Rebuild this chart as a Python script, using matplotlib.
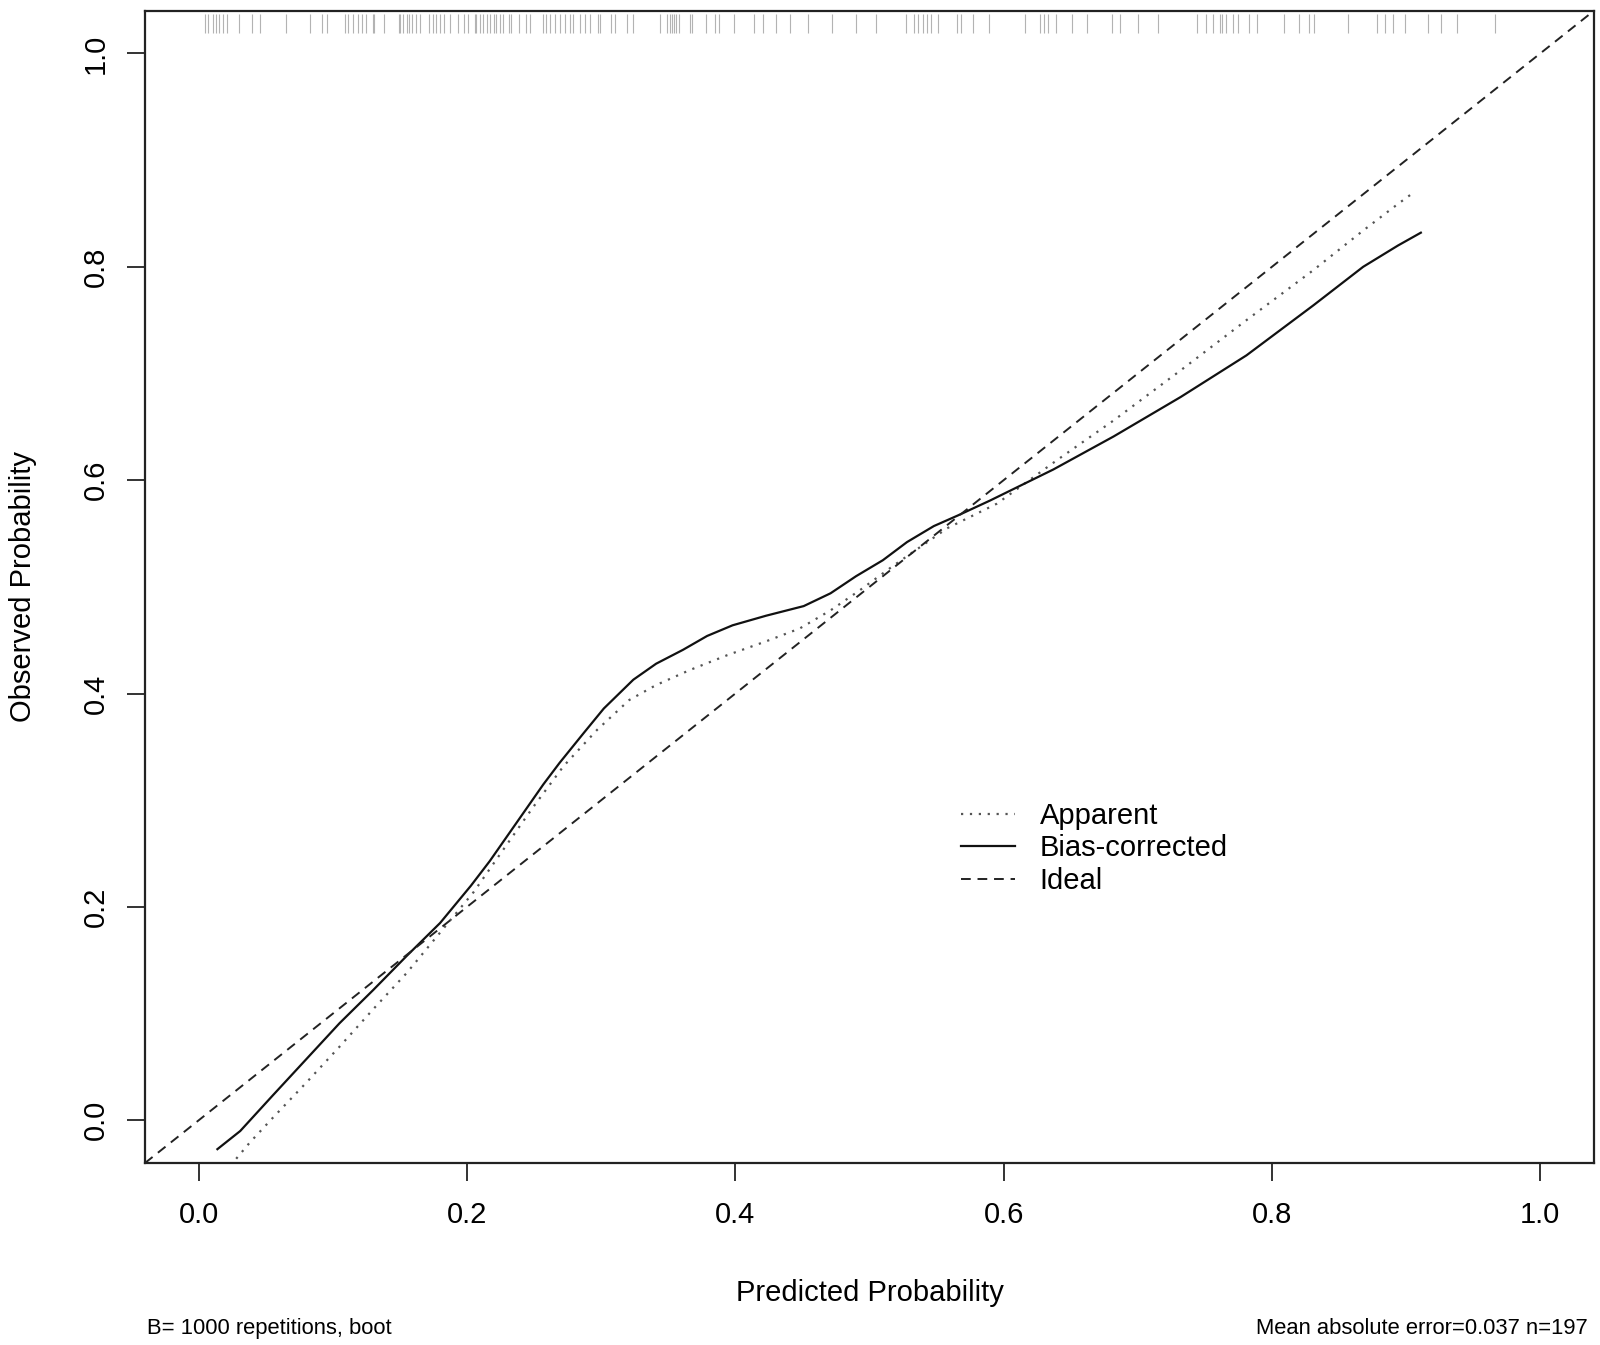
import matplotlib
matplotlib.use("Agg")
import matplotlib.pyplot as plt
import numpy as np

plt.rcParams['font.family'] = ['Liberation Sans', 'DejaVu Sans']

# calibration curves
bias_x = [0.014, 0.031, 0.055, 0.080, 0.105, 0.130, 0.155, 0.180, 0.203, 0.217,
          0.237, 0.257, 0.269, 0.287, 0.302, 0.324, 0.341, 0.361, 0.379, 0.398,
          0.423, 0.451, 0.471, 0.490, 0.510, 0.528, 0.548, 0.566, 0.590, 0.637,
          0.682, 0.732, 0.781, 0.831, 0.868, 0.894, 0.911]
bias_y = [-0.027, -0.010, 0.023, 0.057, 0.091, 0.122, 0.154, 0.185, 0.220, 0.243,
          0.279, 0.315, 0.335, 0.363, 0.386, 0.413, 0.428, 0.441, 0.454, 0.464,
          0.473, 0.482, 0.494, 0.510, 0.525, 0.542, 0.557, 0.567, 0.581, 0.610,
          0.641, 0.678, 0.717, 0.764, 0.800, 0.820, 0.832]

app_x = [0.028, 0.038, 0.055, 0.080, 0.105, 0.130, 0.155, 0.180, 0.205, 0.225,
         0.249, 0.272, 0.297, 0.321, 0.341, 0.366, 0.394, 0.423, 0.448, 0.471,
         0.493, 0.518, 0.558, 0.595, 0.640, 0.682, 0.732, 0.781, 0.831, 0.868,
         0.894, 0.906]
app_y = [-0.036, -0.021, 0.002, 0.035, 0.069, 0.104, 0.138, 0.176, 0.214, 0.250,
         0.293, 0.332, 0.366, 0.394, 0.408, 0.422, 0.436, 0.449, 0.461, 0.478,
         0.497, 0.520, 0.555, 0.578, 0.619, 0.656, 0.703, 0.750, 0.797, 0.834,
         0.859, 0.870]

# predicted probabilities shown as rug at the top
rug = [0.005, 0.007, 0.011, 0.013, 0.015, 0.018, 0.021, 0.030, 0.040, 0.046,
       0.065, 0.083, 0.092, 0.096, 0.109, 0.111, 0.115, 0.119, 0.122, 0.125,
       0.130, 0.131, 0.138, 0.149, 0.150, 0.152, 0.155, 0.157, 0.159, 0.162,
       0.165, 0.172, 0.175, 0.177, 0.180, 0.183, 0.187, 0.193, 0.198, 0.201,
       0.206, 0.207, 0.210, 0.212, 0.215, 0.217, 0.220, 0.222, 0.225, 0.227,
       0.231, 0.233, 0.239, 0.244, 0.247, 0.257, 0.259, 0.262, 0.266, 0.269,
       0.273, 0.277, 0.279, 0.284, 0.288, 0.292, 0.298, 0.299, 0.307, 0.310,
       0.319, 0.324, 0.344, 0.349, 0.351, 0.353, 0.354, 0.356, 0.358, 0.366,
       0.368, 0.378, 0.385, 0.388, 0.399, 0.414, 0.421, 0.430, 0.441, 0.454,
       0.472, 0.490, 0.505, 0.527, 0.533, 0.536, 0.540, 0.543, 0.546, 0.551,
       0.565, 0.568, 0.577, 0.589, 0.616, 0.627, 0.630, 0.633, 0.639, 0.651,
       0.662, 0.681, 0.687, 0.700, 0.715, 0.744, 0.751, 0.756, 0.761, 0.763,
       0.766, 0.771, 0.775, 0.783, 0.789, 0.809, 0.820, 0.828, 0.831, 0.857,
       0.878, 0.884, 0.890, 0.899, 0.916, 0.926, 0.938, 0.966]

ticks = [0.0, 0.2, 0.4, 0.6, 0.8, 1.0]
tick_labels = ["0.0", "0.2", "0.4", "0.6", "0.8", "1.0"]

fig = plt.figure(figsize=(16, 13.45), dpi=100)
ax = fig.add_axes([0.0906, 0.1353, 0.9056, 0.8567])

ax.set_xlim(-0.04, 1.04)
ax.set_ylim(-0.04, 1.04)

ax.vlines(rug, 0.981, 0.997, transform=ax.get_xaxis_transform(),
          color="#b3b3b3", lw=0.8)

ax.plot(app_x, app_y, color="#555555", lw=1.6, linestyle=(0, (1, 3)),
        label="Apparent")
ax.plot(bias_x, bias_y, color="#111111", lw=1.6, label="Bias-corrected")
ax.axline((0, 0), (1, 1), color="#222222", lw=1.4, linestyle=(0, (5, 3.5)),
          label="Ideal")

ax.set_xticks(ticks)
ax.set_xticklabels(tick_labels)
ax.set_yticks(ticks)
ax.set_yticklabels(tick_labels, rotation=90, va="center")
ax.tick_params(axis="both", direction="out", length=13, width=1.4,
               labelsize=21, color="#333333")
ax.tick_params(axis="x", pad=14)
ax.tick_params(axis="y", pad=12)
for s in ax.spines.values():
    s.set_linewidth(1.6)
    s.set_color("#222222")

ax.set_xlabel("Predicted Probability", fontsize=21, va="center")
ax.set_ylabel("Observed Probability", fontsize=21, va="center")
ax.xaxis.set_label_coords(0.5, -0.1128)
ax.yaxis.set_label_coords(-0.0845, 0.5)

ax.legend(loc="upper left", bbox_to_anchor=(0.563, 0.3135), frameon=False,
          fontsize=21, handlelength=1.85, handletextpad=0.85,
          labelspacing=0.16, borderpad=0, borderaxespad=0)

fig.text(0.0919, 0.0126, "B= 1000 repetitions, boot", fontsize=15.8,
         ha="left", va="center")
fig.text(0.9925, 0.0126, "Mean absolute error=0.037 n=197", fontsize=15.8,
         ha="right", va="center")

fig.savefig("out.png", dpi=100)
